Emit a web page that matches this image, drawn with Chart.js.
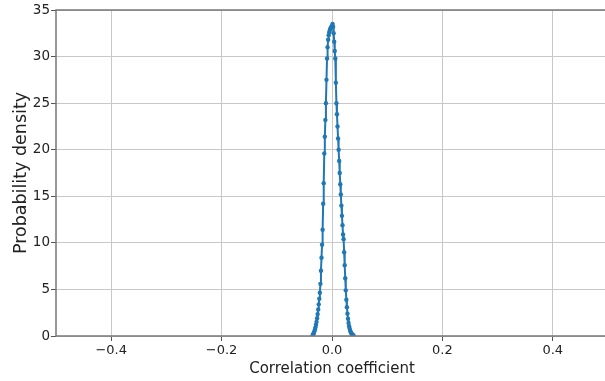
<!DOCTYPE html>
<html>
<head>
<meta charset="utf-8">
<script src="https://cdn.jsdelivr.net/npm/chart.js@4.4.1/dist/chart.umd.min.js"></script>
<style>
  body { margin: 0; overflow: hidden; background: #fff; }
  #wrap { width: 612px; height: 381px; position: relative; }
</style>
</head>
<body>
<div id="wrap"><canvas id="myChart"></canvas></div>
<script>
'use strict';

// correlation coefficient (x) and probability density (y)
let coefficients = [
  -0.035, -0.034, -0.033, -0.032, -0.031, -0.030, -0.029, -0.028, -0.027, -0.026,
  -0.025, -0.024, -0.023, -0.022, -0.021, -0.020, -0.019, -0.018, -0.017, -0.016,
  -0.015, -0.014, -0.013, -0.012, -0.011, -0.010, -0.009, -0.008, -0.007, -0.006,
  -0.005, -0.004, -0.003, -0.002, -0.001, 0.000, 0.001, 0.002, 0.003, 0.004,
  0.005, 0.006, 0.007, 0.008, 0.009, 0.010, 0.011, 0.012, 0.013, 0.014,
  0.015, 0.016, 0.017, 0.018, 0.019, 0.020, 0.021, 0.022, 0.023, 0.024,
  0.025, 0.026, 0.027, 0.028, 0.029, 0.030, 0.031, 0.032, 0.033, 0.034,
  0.035, 0.036, 0.037, 0.038, 0.039
];
let densities = [
  0.10, 0.20, 0.32, 0.48, 0.68, 0.92, 1.20, 1.52, 1.90, 2.35,
  2.85, 3.40, 4.00, 4.65, 5.60, 7.00, 8.40, 9.80, 11.4, 14.2,
  16.4, 19.6, 21.4, 23.2, 25.0, 27.5, 29.8, 31.0, 31.8, 32.3,
  32.6, 32.8, 33.0, 33.1, 33.2, 33.3, 33.5, 33.2, 32.5, 31.6,
  30.6, 29.8, 27.2, 25.0, 23.8, 22.5, 21.2, 20.0, 18.8, 17.5,
  16.3, 15.2, 14.0, 12.9, 11.9, 10.9, 10.4, 9.0, 7.6, 6.2,
  4.9, 3.9, 3.1, 2.4, 1.85, 1.40, 1.05, 0.78, 0.57, 0.42,
  0.30, 0.21, 0.14, 0.09, 0.05
];
let xTicks = [-0.4, -0.2, 0.0, 0.2, 0.4];
let yTicks = [0, 5, 10, 15, 20, 25, 30, 35];

let points = [];
for (let i = 0; i < coefficients.length; i++) {
  points.push({ x: coefficients[i], y: densities[i] });
}

function formatTick(value) {
  // matplotlib style minus sign
  let txt = value.toFixed(1);
  return txt.replace('-', '\u2212');
}

// grey frame around the plot, like matplotlib spines
const framePlugin = {
  id: 'frame',
  afterDatasetsDraw(chart) {
    const a = chart.chartArea;
    const ctx = chart.ctx;
    ctx.save();
    ctx.strokeStyle = '#777';
    ctx.lineWidth = 1.5;
    ctx.strokeRect(a.left, a.top, a.right - a.left, a.bottom - a.top);
    ctx.restore();
  }
};

const config = {
  type: 'line',
  data: {
    datasets: [{
      data: points,
      borderColor: '#1f77b4',
      backgroundColor: '#1f77b4',
      borderWidth: 2,
      pointRadius: 2.2,
      pointBorderWidth: 0,
      pointHoverRadius: 2.2,
      tension: 0
    }]
  },
  options: {
    responsive: true,
    maintainAspectRatio: false,
    animation: false,
    layout: { padding: { top: 10, right: 4, left: 0, bottom: 0 } },
    plugins: { legend: { display: false }, tooltip: { enabled: false } },
    scales: {
      x: {
        type: 'linear',
        min: -0.5,
        max: 0.5,
        afterBuildTicks: function (scale) {
          scale.ticks = xTicks.map(v => ({ value: v }));
        },
        afterFit: function (scale) { scale.height = 45; },
        ticks: {
          callback: formatTick,
          color: '#222',
          font: { family: 'DejaVu Sans', size: 13 },
          padding: 2,
          maxRotation: 0
        },
        grid: { color: '#c8c8c8', lineWidth: 1, tickColor: '#555', tickLength: 5 },
        border: { display: false },
        title: {
          display: true,
          text: 'Correlation coefficient',
          color: '#222',
          font: { family: 'DejaVu Sans', size: 15 },
          padding: { top: 0, bottom: 3 }
        }
      },
      y: {
        min: 0,
        max: 35,
        afterBuildTicks: function (scale) {
          scale.ticks = yTicks.map(v => ({ value: v }));
        },
        afterFit: function (scale) { scale.width = 56; },
        ticks: {
          color: '#222',
          font: { family: 'DejaVu Sans', size: 13.5 },
          padding: 1
        },
        grid: { color: '#c8c8c8', lineWidth: 1, tickColor: '#555', tickLength: 5 },
        border: { display: false },
        title: {
          display: true,
          text: 'Probability density',
          color: '#222',
          font: { family: 'DejaVu Sans', size: 17.5 },
          padding: { top: 11, bottom: 0 }
        }
      }
    }
  },
  plugins: [framePlugin]
};

let chartCanvas = document.getElementById('myChart').getContext('2d');
const myChart = new Chart(chartCanvas, config);
</script>
</body>
</html>
